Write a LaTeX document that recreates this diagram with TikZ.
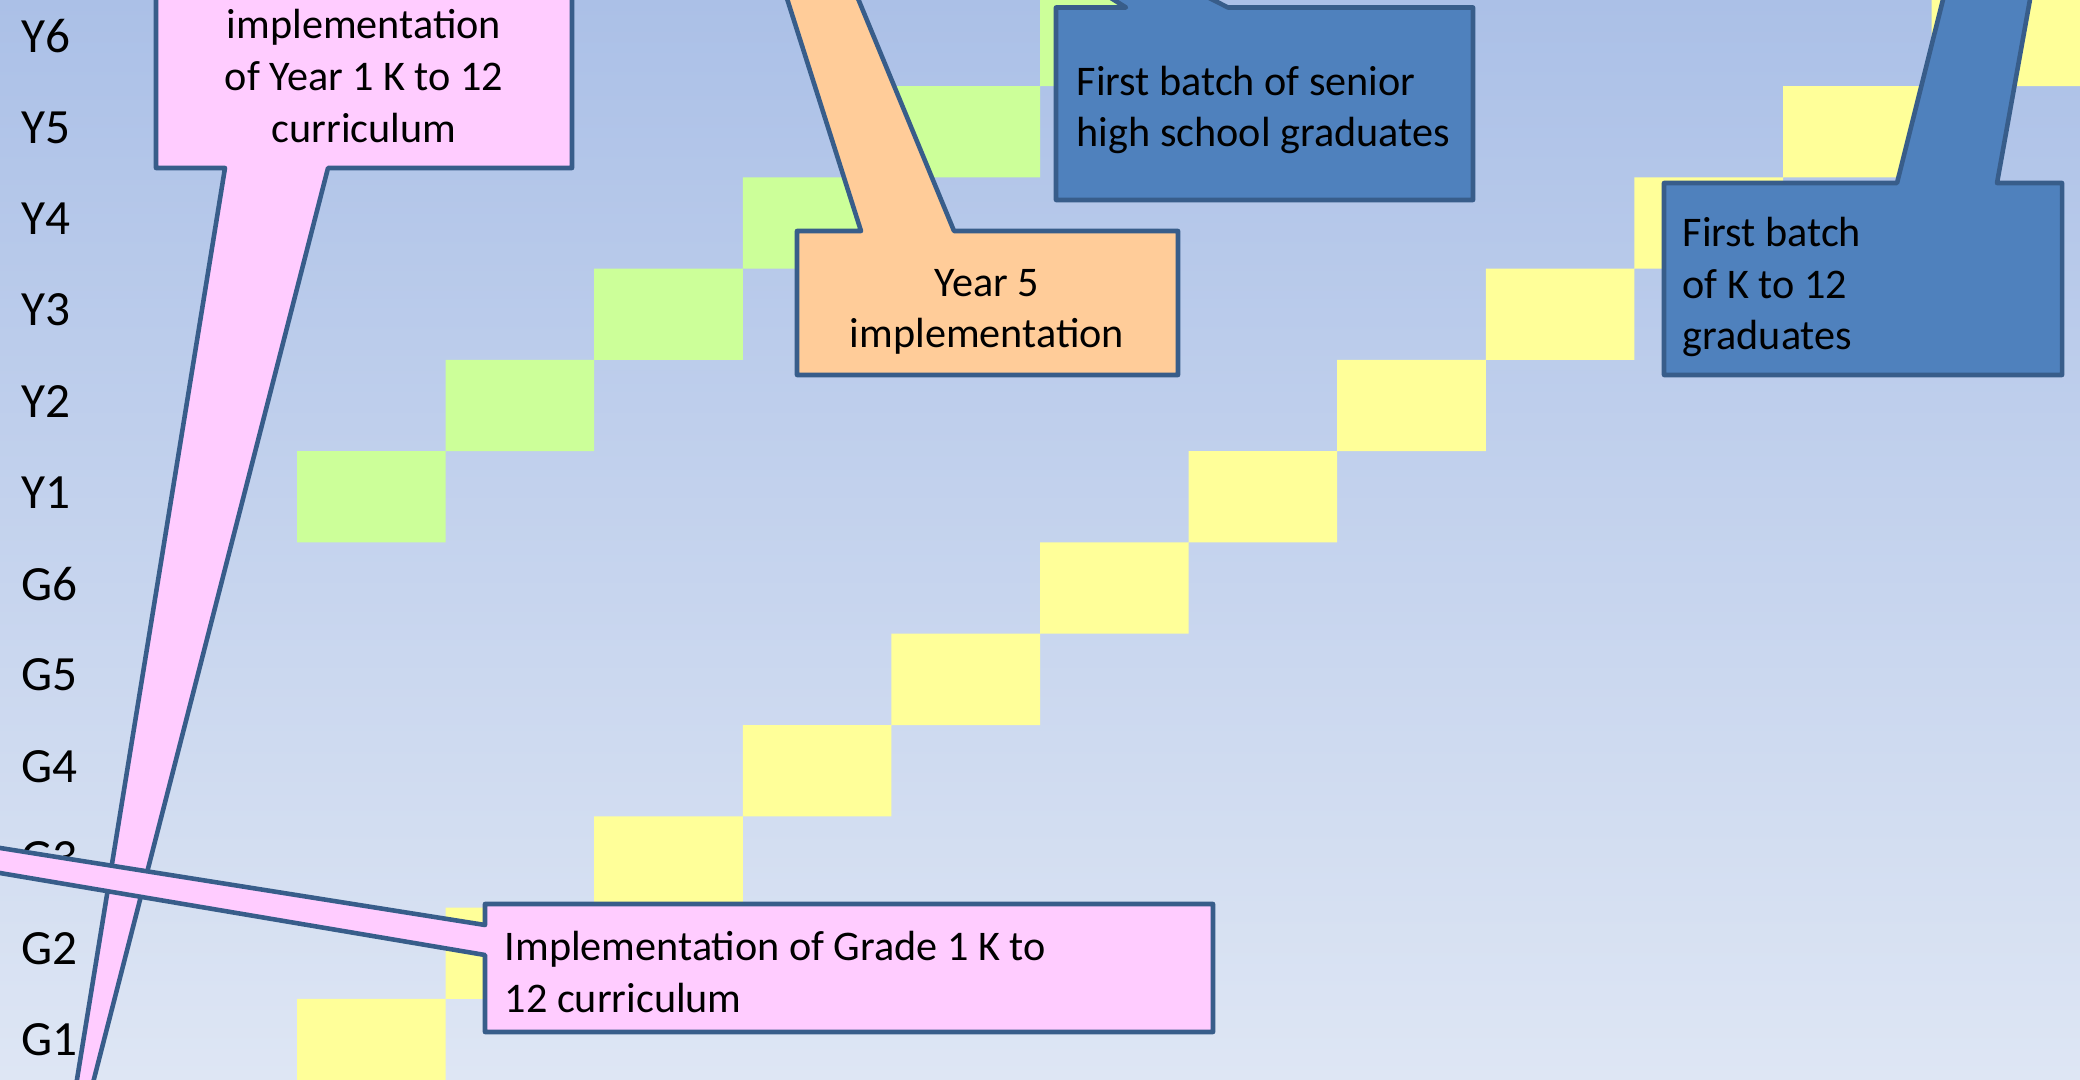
\documentclass[tikz,border=0pt]{standalone}
\usepackage{fontspec}
\setmainfont{Carlito}
\usepackage{tikz}
\definecolor{bgtop}{RGB}{171,192,231}
\definecolor{bgbot}{RGB}{222,230,244}
\definecolor{grn}{RGB}{204,255,153}
\definecolor{ylw}{RGB}{255,255,153}
\definecolor{pnk}{RGB}{255,204,255}
\definecolor{org}{RGB}{255,204,153}
\definecolor{blu}{RGB}{79,129,189}
\definecolor{bdr}{RGB}{56,93,138}
\tikzset{lbl/.style={anchor=west,inner sep=0pt,font=\fontsize{14pt}{17pt}\selectfont}}
\tikzset{txt/.style={inner sep=0pt,font=\fontsize{12pt}{14.7pt}\selectfont}}
\tikzset{callout/.style={draw=bdr,line width=1.3pt,line join=round}}

\begin{document}
\begin{tikzpicture}[x=0.01cm,y=-0.01cm]
      \useasboundingbox (0,0) rectangle (2080,1080);
      \clip (0,0) rectangle (2080,1080);
      \shade[top color=bgtop,bottom color=bgbot] (0,0) rectangle (2080,1080);
      % year cells of the old curriculum
      \fill[grn] (297,451.25) rectangle (445.6,542.5)
        (445.6,360) rectangle (594.2,451.25)
        (594.2,268.75) rectangle (742.8,360)
        (742.8,177.5) rectangle (891.4,268.75)
        (891.4,86.25) rectangle (1040,177.5)
        (1040,-5) rectangle (1188.6,86.25);
      % K to 12 cells
      \fill[ylw] (297,998.75) rectangle (445.6,1090)
        (445.6,907.5) rectangle (594.2,998.75)
        (594.2,816.25) rectangle (742.8,907.5)
        (742.8,725) rectangle (891.4,816.25)
        (891.4,633.75) rectangle (1040,725)
        (1040,542.5) rectangle (1188.6,633.75)
        (1188.6,451.25) rectangle (1337.2,542.5)
        (1337.2,360) rectangle (1485.8,451.25)
        (1485.8,268.75) rectangle (1634.4,360)
        (1634.4,177.5) rectangle (1783,268.75)
        (1783,86.25) rectangle (1931.6,177.5)
        (1931.6,-5) rectangle (2080.2,86.25);
      \node[lbl] (y6) at (21,36) {Y6};
      \node[lbl] (y5) at (21,127.5) {Y5};
      \node[lbl] (y4) at (21,218.7) {Y4};
      \node[lbl] (y3) at (21,310) {Y3};
      \node[lbl] (y2) at (21,401.2) {Y2};
      \node[lbl] (y1) at (21,492.5) {Y1};
      \node[lbl] (g6) at (21,583.7) {G6};
      \node[lbl] (g5) at (21,675) {G5};
      \node[lbl] (g4) at (21,766.2) {G4};
      \node[lbl] (g3) at (21,857.5) {G3};
      \node[lbl] (g2) at (21,948.7) {G2};
      \node[lbl] (g1) at (21,1040) {G1};
      % callouts
      \draw[callout,fill=pnk] (156,-60) -- (572,-60) -- (572,168) -- (328,168)
        -- (48,1258) -- (225,168) -- (156,168) -- cycle;
      \node[txt,align=center] (yr1) at (364,76) {implementation\\of Year 1 K to 12\\curriculum};
      \draw[callout,fill=org] (797,231) -- (861,231) -- (548,-752) -- (954,231)
        -- (1178,231) -- (1178,375) -- (797,375) -- cycle;
      \node[txt,align=center] (yr5) at (987,312) {Year 5\\implementation};
      \draw[callout,fill=blu] (1056,7.5) -- (1126,7.5) -- (700,-260) -- (1228,7.5)
        -- (1473,7.5) -- (1473,200) -- (1056,200) -- cycle;
      \node[txt,align=left,anchor=west] (shs) at (1076,110) {First batch of senior\\high school graduates};
      \draw[callout,fill=blu] (1664,183) -- (1897,183) -- (2250,-1225) -- (1997,183)
        -- (2062,183) -- (2062,375) -- (1664,375) -- cycle;
      \node[txt,align=left,anchor=west] (k12) at (1682,287) {First batch\\of K to 12\\graduates};
      \draw[callout,fill=pnk] (485,904) -- (1213,904) -- (1213,1032) -- (485,1032)
        -- (485,955) -- (-2455,458) -- (485,925) -- cycle;
      \node[txt,align=left,anchor=west] (gr1) at (504,972) {Implementation of Grade 1 K to\\12 curriculum};
\end{tikzpicture}
\end{document}
